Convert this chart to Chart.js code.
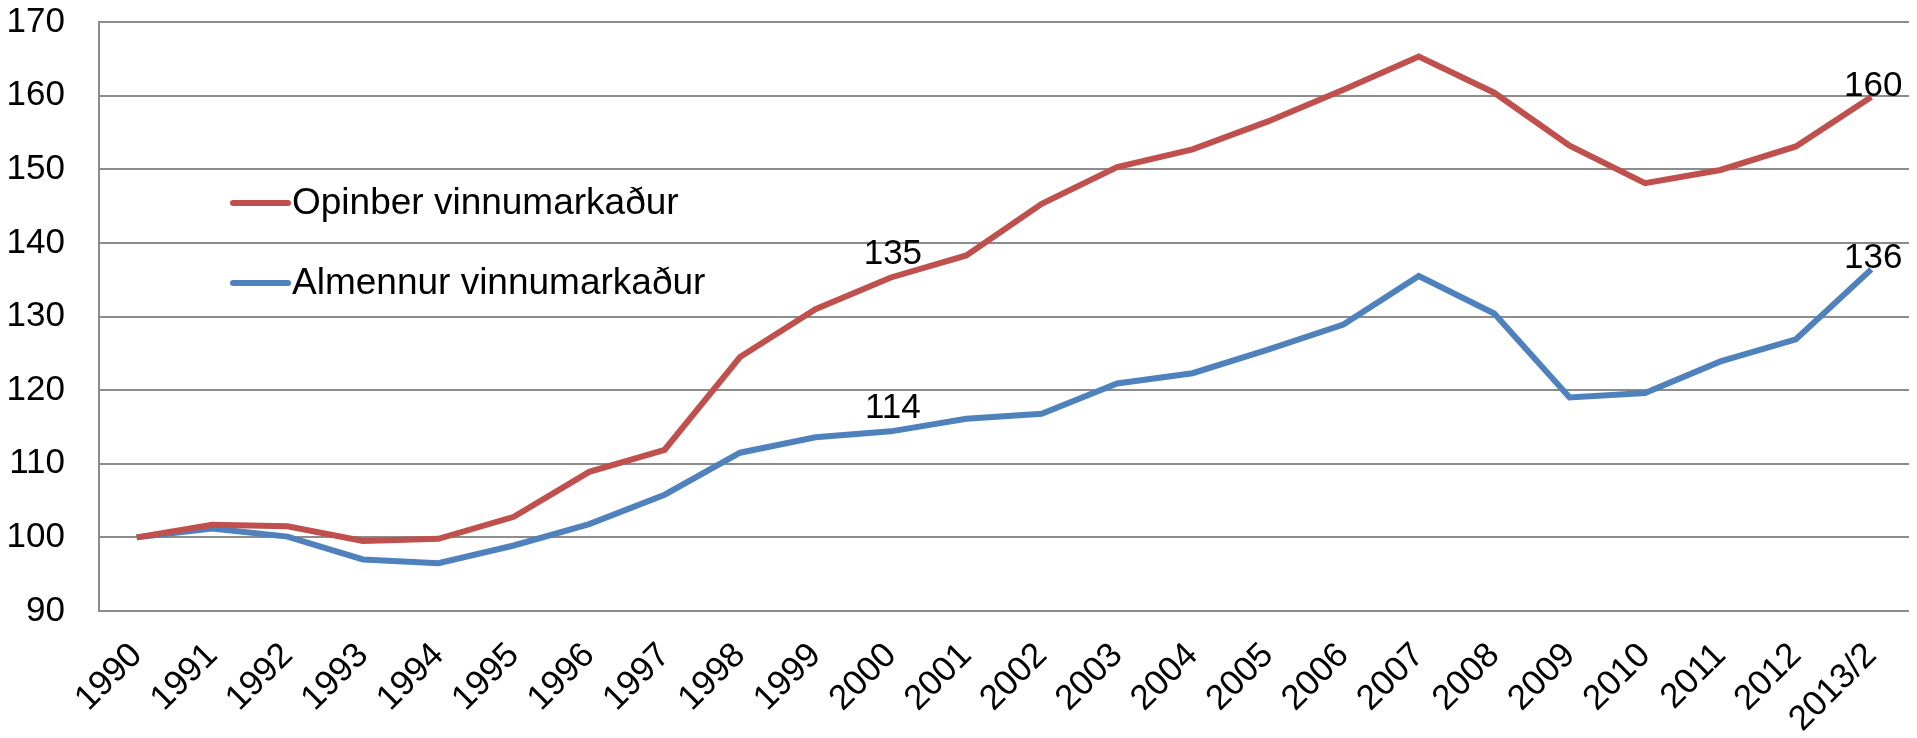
<!DOCTYPE html>
<html>
<head>
<meta charset="utf-8">
<script src="https://cdn.jsdelivr.net/npm/chart.js@4.4.0/dist/chart.umd.min.js"></script>
<style>
  body { margin: 0; background: #fff; }
  #wrap { width: 1917px; height: 738px; position: relative; }
</style>
</head>
<body>
<div id="wrap"><canvas id="myChart"></canvas></div>
<script>
const ctx = document.getElementById('myChart').getContext('2d');

const ar = ['1990', '1991', '1992', '1993', '1994', '1995', '1996', '1997', '1998', '1999', '2000', '2001',
            '2002', '2003', '2004', '2005', '2006', '2007', '2008', '2009', '2010', '2011', '2012', '2013/2'];
const opinber = [100, 101.7, 101.5, 99.5, 99.8, 102.8, 108.9, 111.9, 124.5, 131.0, 135.3, 138.3,
                 145.3, 150.3, 152.7, 156.5, 160.8, 165.3, 160.4, 153.2, 148.1, 149.9, 153.1, 159.8];
const almennur = [100, 101.2, 100.1, 97.0, 96.5, 98.9, 101.8, 105.8, 111.5, 113.6, 114.4, 116.1,
                  116.8, 120.9, 122.3, 125.5, 128.9, 135.5, 130.4, 119.0, 119.6, 123.9, 126.9, 136.4];
const nafnOpinber = 'Opinber vinnumarkaður';
const nafnAlmennur = 'Almennur vinnumarkaður';
const yMin = 90, yMax = 170, yStep = 10;
// punktar sem fá gildismerki
const merktir = [10, 23];

const letur = "'Liberation Sans', Arial, sans-serif";
const grar = '#8c8c8c';

// gildismerki fyrir valda punkta
const gildiPlugin = {
  id: 'gildi',
  afterDatasetsDraw(chart) {
    const c = chart.ctx;
    c.save();
    c.font = '35px ' + letur;
    c.fillStyle = '#000';
    c.textAlign = 'center';
    c.textBaseline = 'middle';
    chart.data.datasets.forEach((ds, d) => {
      const meta = chart.getDatasetMeta(d);
      merktir.forEach(i => {
        const p = meta.data[i];
        const upp = i === ds.data.length - 1 ? 11 : 23;
        c.fillText(Math.round(ds.data[i]), p.x + 2, p.y - upp);
      });
    });
    c.restore();
  }
};

// skýringar inni í teiknisvæðinu
const skyringPlugin = {
  id: 'skyring',
  afterDraw(chart) {
    const c = chart.ctx;
    const a = chart.chartArea;
    c.save();
    c.font = '37px ' + letur;
    c.textBaseline = 'middle';
    c.lineCap = 'round';
    c.lineWidth = 6;
    chart.data.datasets.forEach((ds, d) => {
      const y = a.top + 181 + d * 80;
      const x = a.left + 134;
      c.strokeStyle = ds.borderColor;
      c.beginPath();
      c.moveTo(x, y);
      c.lineTo(x + 55, y);
      c.stroke();
      c.fillStyle = '#000';
      c.fillText(ds.label, x + 59, y + 1);
    });
    c.restore();
  }
};

const myChart = new Chart(ctx, {
  type: 'line',
  data: {
    labels: ar,
    datasets: [{
      label: nafnOpinber,
      data: opinber,
      borderColor: '#C0504D',
      backgroundColor: '#C0504D',
      borderWidth: 6,
      pointRadius: 0,
      tension: 0,
      fill: false
    }, {
      label: nafnAlmennur,
      data: almennur,
      borderColor: '#4F81BD',
      backgroundColor: '#4F81BD',
      borderWidth: 6,
      pointRadius: 0,
      tension: 0,
      fill: false
    }]
  },
  options: {
    responsive: true,
    maintainAspectRatio: false,
    animation: false,
    layout: { padding: { left: 7, top: 22, right: 1, bottom: 0 } },
    plugins: {
      legend: { display: false },
      tooltip: { enabled: false }
    },
    scales: {
      x: {
        offset: true,
        grid: { display: false },
        border: { display: true, color: grar, width: 2 },
        ticks: {
          autoSkip: false,
          minRotation: 45,
          maxRotation: 45,
          padding: 16,
          color: '#000',
          font: { family: letur, size: 35 }
        },
        afterFit(scale) { scale.height = 127; }
      },
      y: {
        min: yMin,
        max: yMax,
        grid: { color: grar, lineWidth: 2, drawTicks: false },
        border: { display: true, color: grar, width: 2 },
        ticks: {
          stepSize: yStep,
          padding: 34,
          color: '#000',
          font: { family: letur, size: 35 }
        },
        afterFit(scale) {
          scale.width = 92;
          scale.paddingTop = 0;
          scale.paddingBottom = 0;
        }
      }
    }
  },
  plugins: [gildiPlugin, skyringPlugin]
});
</script>
</body>
</html>
